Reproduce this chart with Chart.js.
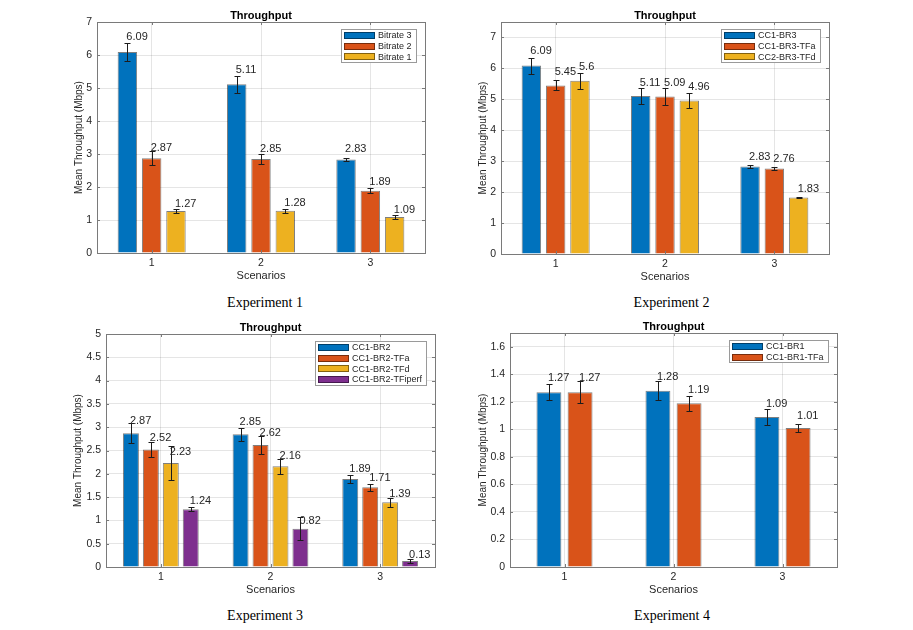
<!DOCTYPE html>
<html><head><meta charset="utf-8">
<script src="https://cdn.jsdelivr.net/npm/chart.js@4.4.0/dist/chart.umd.min.js"></script>
<style>
html,body{margin:0;padding:0;background:#fff;width:913px;height:630px;overflow:hidden;}
body{position:relative;}
canvas{position:absolute;}
.cap{position:absolute;font-family:"Liberation Serif","Times New Roman",serif;font-size:14px;color:#000;transform:translate(-50%,-50%);white-space:nowrap;}
</style></head><body>
<canvas id="c1"></canvas><canvas id="c2"></canvas><canvas id="c3"></canvas><canvas id="c4"></canvas>
<div class="cap" style="left:265px;top:302.5px">Experiment 1</div>
<div class="cap" style="left:671.5px;top:302.5px">Experiment 2</div>
<div class="cap" style="left:265px;top:615.5px">Experiment 3</div>
<div class="cap" style="left:672px;top:616px">Experiment 4</div>
<script>
// ---------- data ----------
const scenarios = ['1', '2', '3'];

// Experiment 1
const exp1Names = ['Bitrate 3', 'Bitrate 2', 'Bitrate 1'];
const exp1Bitrate3 = [6.09, 5.11, 2.83];
const exp1Bitrate2 = [2.87, 2.85, 1.89];
const exp1Bitrate1 = [1.27, 1.28, 1.09];
const exp1Err3 = [0.27, 0.26, 0.04];
const exp1Err2 = [0.21, 0.14, 0.08];
const exp1Err1 = [0.05, 0.06, 0.05];
const exp1Ticks = [0, 1, 2, 3, 4, 5, 6, 7];

// Experiment 2
const exp2Names = ['CC1-BR3', 'CC1-BR3-TFa', 'CC2-BR3-TFd'];
const exp2BR3 = [6.09, 5.11, 2.83];
const exp2BR3TFa = [5.45, 5.09, 2.76];
const exp2BR3TFd = [5.6, 4.96, 1.83];
const exp2ErrBR3 = [0.26, 0.25, 0.04];
const exp2ErrTFa = [0.16, 0.27, 0.06];
const exp2ErrTFd = [0.25, 0.24, 0.02];
const exp2Ticks = [0, 1, 2, 3, 4, 5, 6, 7];

// Experiment 3
const exp3Names = ['CC1-BR2', 'CC1-BR2-TFa', 'CC1-BR2-TFd', 'CC1-BR2-TFiperf'];
const exp3BR2 = [2.87, 2.85, 1.89];
const exp3TFa = [2.52, 2.62, 1.71];
const exp3TFd = [2.23, 2.16, 1.39];
const exp3TFiperf = [1.24, 0.82, 0.13];
const exp3ErrBR2 = [0.21, 0.14, 0.08];
const exp3ErrTFa = [0.16, 0.19, 0.07];
const exp3ErrTFd = [0.36, 0.16, 0.10];
const exp3ErrTFiperf = [0.04, 0.25, 0.035];
const exp3Ticks = [0, 0.5, 1, 1.5, 2, 2.5, 3, 3.5, 4, 4.5, 5];

// Experiment 4
const exp4Names = ['CC1-BR1', 'CC1-BR1-TFa'];
const exp4BR1 = [1.27, 1.28, 1.09];
const exp4TFa = [1.27, 1.19, 1.01];
const exp4ErrBR1 = [0.06, 0.07, 0.055];
const exp4ErrTFa = [0.08, 0.055, 0.03];
const exp4Ticks = [0, 0.2, 0.4, 0.6, 0.8, 1, 1.2, 1.4, 1.6];

// ---------- styles ----------
const COLORS = ['#0072BD', '#D95319', '#EDB120', '#7E2F8E'];
const FONT = '"Liberation Sans", Arial, Helvetica, sans-serif';
const AXIS_COLOR = '#7a7a7a';
const TEXT_COLOR = '#262626';

// ---------- plugins ----------
const framePlugin = {
  id: 'frame',
  afterDatasetsDraw(chart) {
    const ctx = chart.ctx, a = chart.chartArea;
    const ys = chart.scales.y, xs = chart.scales.x;
    ctx.save();
    ctx.strokeStyle = AXIS_COLOR; ctx.lineWidth = 1;
    ctx.beginPath();
    ys.ticks.forEach(t => {
      const y = Math.round(ys.getPixelForValue(t.value)) + 0.5;
      ctx.moveTo(a.left, y); ctx.lineTo(a.left + 3, y);
      ctx.moveTo(a.right, y); ctx.lineTo(a.right - 3, y);
    });
    xs.ticks.forEach((t, i) => {
      const x = Math.round(xs.getPixelForTick(i)) + 0.5;
      ctx.moveTo(x, a.bottom); ctx.lineTo(x, a.bottom - 3);
      ctx.moveTo(x, a.top); ctx.lineTo(x, a.top + 3);
    });
    ctx.stroke();
    ctx.strokeRect(Math.round(a.left) + 0.5, Math.round(a.top) + 0.5,
      Math.round(a.right - a.left), Math.round(a.bottom - a.top));
    ctx.restore();
  }
};

const errorBarPlugin = {
  id: 'errorBars',
  afterDatasetsDraw(chart) {
    const ctx = chart.ctx, ys = chart.scales.y;
    ctx.save();
    ctx.strokeStyle = '#1c1c1c'; ctx.lineWidth = 1;
    chart.data.datasets.forEach((ds, i) => {
      chart.getDatasetMeta(i).data.forEach((bar, j) => {
        const v = ds.data[j], e = ds.errors[j];
        const x = Math.round(bar.x) + 0.5;
        const yt = Math.round(ys.getPixelForValue(v + e)) + 0.5;
        const yb = Math.round(ys.getPixelForValue(v - e)) + 0.5;
        ctx.beginPath();
        ctx.moveTo(x, yt); ctx.lineTo(x, yb);
        ctx.moveTo(x - 3, yt); ctx.lineTo(x + 3, yt);
        ctx.moveTo(x - 3, yb); ctx.lineTo(x + 3, yb);
        ctx.stroke();
      });
    });
    ctx.restore();
  }
};

const valueLabelPlugin = {
  id: 'valueLabels',
  afterDatasetsDraw(chart) {
    const ctx = chart.ctx, ys = chart.scales.y;
    ctx.save();
    ctx.font = '11px ' + FONT;
    ctx.fillStyle = TEXT_COLOR;
    ctx.textAlign = 'left'; ctx.textBaseline = 'bottom';
    chart.data.datasets.forEach((ds, i) => {
      chart.getDatasetMeta(i).data.forEach((bar, j) => {
        const v = ds.data[j];
        ctx.fillText(String(v), bar.x - 1, ys.getPixelForValue(v * 1.05));
      });
    });
    ctx.restore();
  }
};

const boxLegendPlugin = {
  id: 'boxLegend',
  afterDraw(chart) {
    const ctx = chart.ctx, a = chart.chartArea;
    const dss = chart.data.datasets;
    ctx.save();
    ctx.font = '9px ' + FONT;
    const tw = Math.max(...dss.map(d => ctx.measureText(d.label).width));
    const rowH = 10.7, sw = 31, sh = 7;
    const w = Math.round(3 + sw + 3 + tw + 4), h = Math.round(dss.length * rowH + 1);
    const x0 = Math.round(a.right - 9 - w), y0 = Math.round(a.top + 7);
    ctx.fillStyle = '#fff'; ctx.fillRect(x0, y0, w, h);
    ctx.strokeStyle = '#9a9a9a'; ctx.lineWidth = 1;
    ctx.strokeRect(x0 + 0.5, y0 + 0.5, w, h);
    dss.forEach((d, i) => {
      const cy = y0 + 1 + rowH * (i + 0.5);
      ctx.fillStyle = d.backgroundColor;
      ctx.fillRect(x0 + 3, Math.round(cy - sh / 2), sw, sh);
      ctx.strokeStyle = 'rgba(0,0,0,0.45)';
      ctx.strokeRect(x0 + 3.5, Math.round(cy - sh / 2) + 0.5, sw - 1, sh - 1);
      ctx.fillStyle = TEXT_COLOR; ctx.textBaseline = 'middle'; ctx.textAlign = 'left';
      ctx.fillText(d.label, x0 + 3 + sw + 3, cy + 0.5);
    });
    ctx.restore();
  }
};

// ---------- chart builder ----------
function makeChart(id, pos, names, values, errors, ticks, yMax) {
  const cv = document.getElementById(id);
  const W = pos.L + pos.plotW + pos.R, H = pos.T + pos.plotH + pos.B;
  cv.width = W; cv.height = H;
  cv.style.left = pos.x + 'px'; cv.style.top = pos.y + 'px';
  cv.style.width = W + 'px'; cv.style.height = H + 'px';
  const n = names.length;
  const datasets = names.map((nm, i) => ({
    label: nm,
    data: values[i],
    errors: errors[i],
    backgroundColor: COLORS[i],
    borderColor: 'rgba(0,0,0,0.5)',
    borderWidth: 1,
    categoryPercentage: n / (n + 1.5),
    barPercentage: 0.8
  }));
  return new Chart(cv, {
    type: 'bar',
    data: { labels: scenarios, datasets },
    options: {
      responsive: false,
      animation: false,
      devicePixelRatio: 1,
      layout: { padding: { left: 0, right: pos.R, top: 0, bottom: 0 } },
      plugins: {
        legend: { display: false },
        tooltip: { enabled: false },
        title: {
          display: true, text: 'Throughput', fullSize: false,
          color: '#000',
          font: { family: FONT, size: 11, weight: 'bold', lineHeight: 12 / 11 },
          padding: { top: pos.T - 12, bottom: 0 }
        }
      },
      scales: {
        x: {
          grid: { color: 'rgba(38,38,38,0.12)', offset: false, drawTicks: false },
          border: { display: false },
          ticks: { color: TEXT_COLOR, font: { family: FONT, size: 10.5 }, padding: 4, maxRotation: 0 },
          title: { display: true, text: 'Scenarios', color: TEXT_COLOR,
                   font: { family: FONT, size: 11, lineHeight: 1.2 }, padding: 0 },
          afterFit: s => { s.height = pos.B; }
        },
        y: {
          min: 0, max: yMax,
          grid: { color: 'rgba(38,38,38,0.12)', drawTicks: false },
          border: { display: false },
          afterBuildTicks: s => { s.ticks = ticks.map(v => ({ value: v })); },
          ticks: { color: TEXT_COLOR, font: { family: FONT, size: 10.5 }, padding: 5,
                   callback: v => String(v) },
          title: { display: true, text: 'Mean Throughput (Mbps)', color: TEXT_COLOR,
                   font: { family: FONT, size: 10, lineHeight: 1.2 }, padding: 0 },
          afterFit: s => { s.width = pos.L; }
        }
      }
    },
    plugins: [framePlugin, errorBarPlugin, valueLabelPlugin, boxLegendPlugin]
  });
}

// canvas placement (page px)
const pos1 = { x: 73, y: 0, L: 24, plotW: 328, R: 10, T: 22, plotH: 231, B: 30 };
const pos2 = { x: 477, y: 0, L: 24, plotW: 328, R: 10, T: 22, plotH: 232, B: 30 };
const pos3 = { x: 72, y: 312, L: 34, plotW: 329, R: 10, T: 22, plotH: 233, B: 30 };
const pos4 = { x: 477, y: 311, L: 33, plotW: 327, R: 10, T: 22, plotH: 234, B: 30 };

makeChart('c1', pos1, exp1Names,
  [exp1Bitrate3, exp1Bitrate2, exp1Bitrate1],
  [exp1Err3, exp1Err2, exp1Err1], exp1Ticks, 7);
makeChart('c2', pos2, exp2Names,
  [exp2BR3, exp2BR3TFa, exp2BR3TFd],
  [exp2ErrBR3, exp2ErrTFa, exp2ErrTFd], exp2Ticks, 7.5);
makeChart('c3', pos3, exp3Names,
  [exp3BR2, exp3TFa, exp3TFd, exp3TFiperf],
  [exp3ErrBR2, exp3ErrTFa, exp3ErrTFd, exp3ErrTFiperf], exp3Ticks, 5);
makeChart('c4', pos4, exp4Names,
  [exp4BR1, exp4TFa],
  [exp4ErrBR1, exp4ErrTFa], exp4Ticks, 1.7);
</script>
</body></html>
